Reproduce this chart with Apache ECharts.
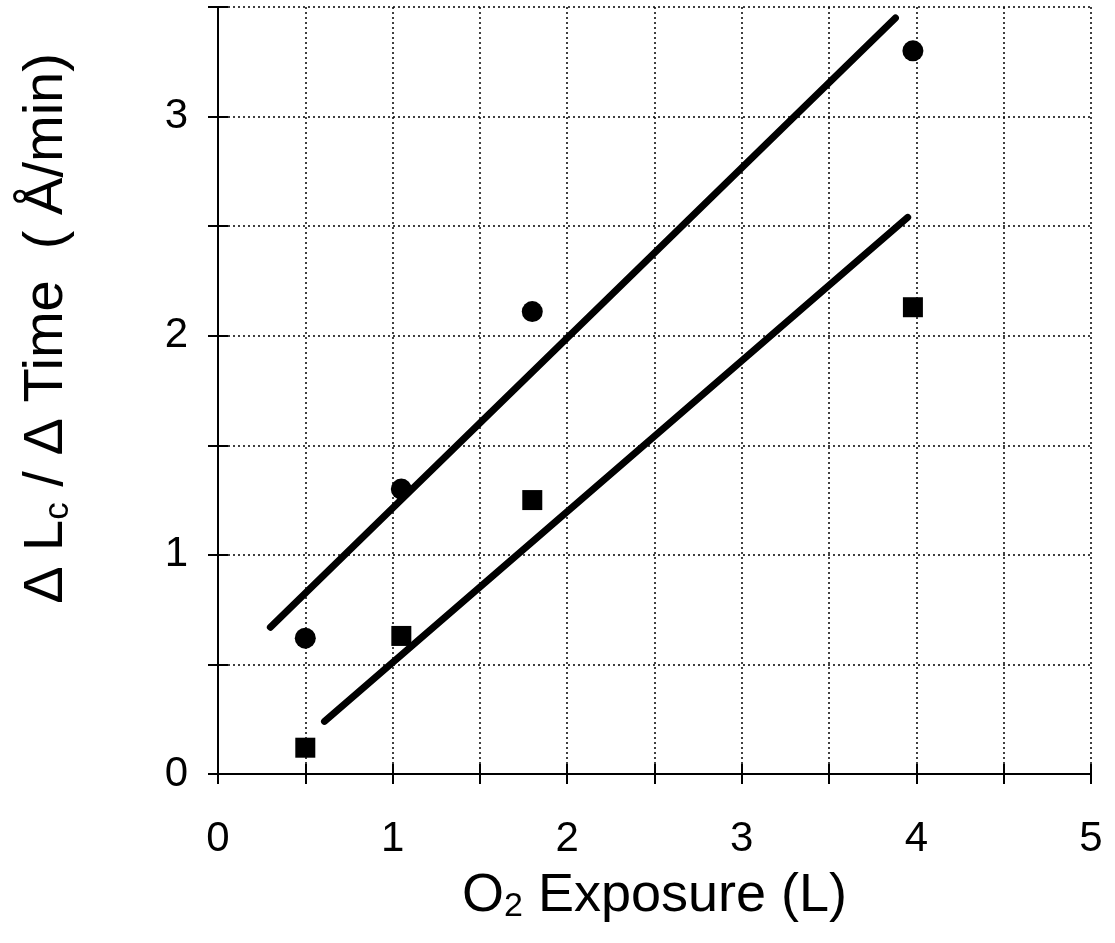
<!DOCTYPE html>
<html><head><meta charset="utf-8">
<script src="https://cdn.jsdelivr.net/npm/echarts@6/dist/echarts.min.js"></script>
<style>html,body{margin:0;padding:0;background:#fff}#c{width:1115px;height:943px}</style>
</head><body><div id="c"></div>
<script>
const circleX = [0.5, 1.05, 1.8, 3.98];
const circleY = [0.62, 1.30, 2.11, 3.30];
const squareX = [0.5, 1.05, 1.8, 3.98];
const squareY = [0.12, 0.63, 1.25, 2.13];
const upperFitX = [0.30, 3.88];
const upperFitY = [0.67, 3.45];
const lowerFitX = [0.61, 3.95];
const lowerFitY = [0.24, 2.54];
const xTicks = [0, 1, 2, 3, 4, 5];
const yTicks = [0, 1, 2, 3];

const zip = (a, b) => a.map((v, i) => [v, b[i]]);
const font = 'Liberation Sans, Arial, sans-serif';
const tickStyle = {show: true, inside: true, length: 10, lineStyle: {color: '#000', width: 2}};
const lineStyle = {show: true, lineStyle: {color: '#000', width: 2}};
const gridStyle = {show: true, lineStyle: {color: '#000', type: [2, 3], width: 1.5}};
const chart = echarts.init(document.getElementById('c'));
chart.setOption({
  animation: false,
  grid: {left: 218, right: 24, top: 7, bottom: 169},
  xAxis: [{
    type: 'value', min: 0, max: 5, interval: 0.5,
    axisLine: lineStyle, axisTick: tickStyle, splitLine: gridStyle,
    axisLabel: {
      fontFamily: font, fontSize: 42, color: '#000', margin: 44,
      formatter: v => xTicks.includes(v) ? String(v) : ''
    },
    name: '{a|O}{s|2}{a| Exposure (L)}', nameLocation: 'middle', nameGap: 94,
    nameTextStyle: {rich: {
      a: {fontFamily: font, fontSize: 54, color: '#000'},
      s: {fontFamily: font, fontSize: 34, color: '#000', verticalAlign: 'bottom', padding: [22, 0, 0, 0]}
    }}
  }, {
    type: 'value', min: 0, max: 5, interval: 0.5, position: 'top',
    axisLine: lineStyle, axisTick: tickStyle, splitLine: {show: false}, axisLabel: {show: false}
  }],
  yAxis: [{
    type: 'value', min: 0, max: 3.5, interval: 0.5,
    axisLine: lineStyle, axisTick: tickStyle, splitLine: gridStyle,
    axisLabel: {
      fontFamily: font, fontSize: 42, color: '#000', margin: 30,
      formatter: v => yTicks.includes(v) ? String(v) : ''
    },
    name: '{a|Δ L}{s|c}{a| / Δ Time  ( Å/min)}', nameLocation: 'middle', nameGap: 142, nameRotate: 90,
    nameTextStyle: {padding: [0, 0, 0, 124], rich: {
      a: {fontFamily: font, fontSize: 56, color: '#000'},
      s: {fontFamily: font, fontSize: 35, color: '#000', verticalAlign: 'bottom', padding: [23, 0, 0, 0]}
    }}
  }, {
    type: 'value', min: 0, max: 3.5, interval: 0.5, position: 'right',
    axisLine: lineStyle, axisTick: tickStyle, splitLine: {show: false}, axisLabel: {show: false}
  }],
  series: [
    {type: 'line', data: zip(upperFitX, upperFitY), showSymbol: false, lineStyle: {color: '#000', width: 7, cap: 'round'}},
    {type: 'line', data: zip(lowerFitX, lowerFitY), showSymbol: false, lineStyle: {color: '#000', width: 7, cap: 'round'}},
    {type: 'scatter', data: zip(circleX, circleY), symbol: 'circle', symbolSize: 21, itemStyle: {color: '#000', opacity: 1}},
    {type: 'scatter', data: zip(squareX, squareY), symbol: 'rect', symbolSize: 20, itemStyle: {color: '#000', opacity: 1}}
  ]
});
</script></body></html>
